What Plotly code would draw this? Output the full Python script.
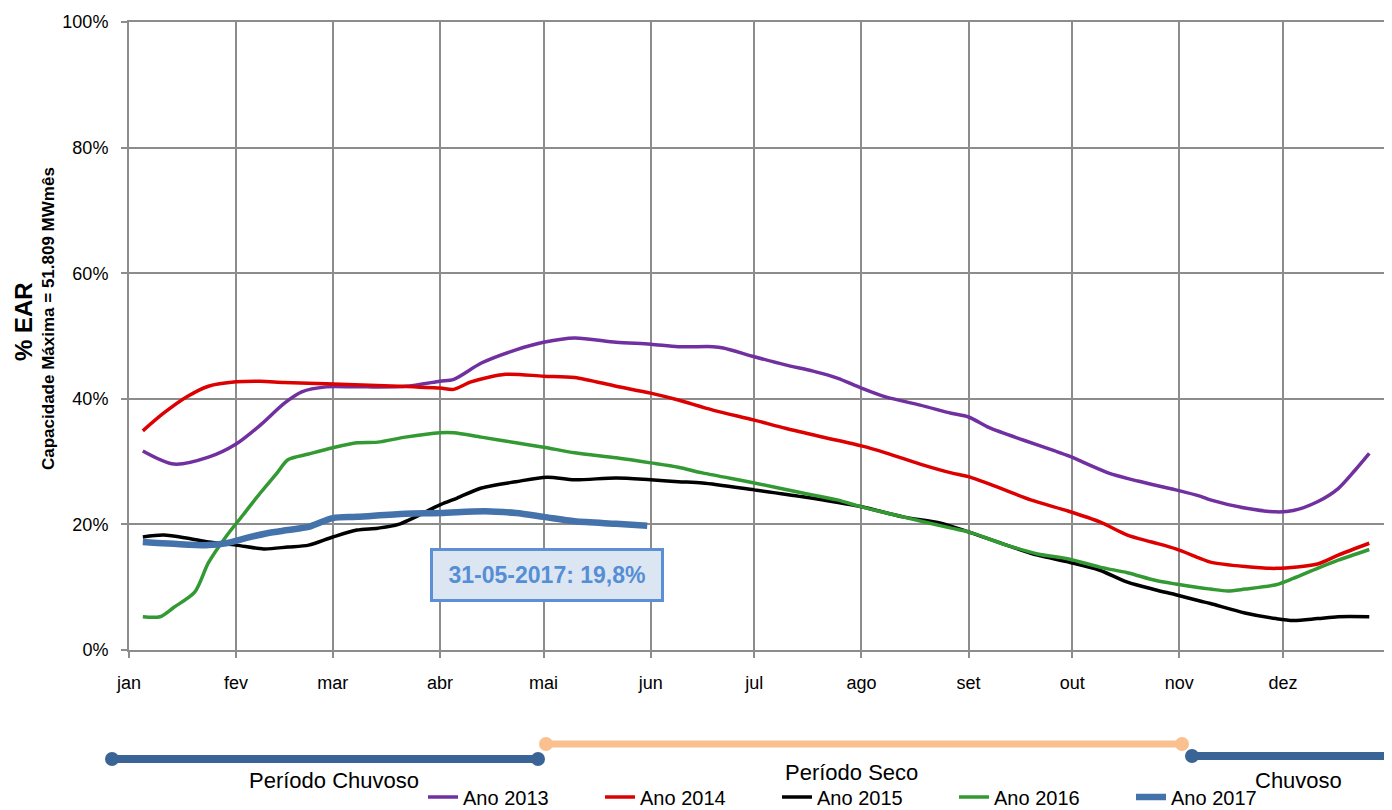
import plotly.graph_objects as go

# ---------------- data (values in % EAR) ----------------
months = ["jan", "fev", "mar", "abr", "mai", "jun", "jul", "ago", "set", "out", "nov", "dez"]
month_starts = ["2017-01-01", "2017-02-01", "2017-03-01", "2017-04-01", "2017-05-01", "2017-06-01",
                "2017-07-01", "2017-08-01", "2017-09-01", "2017-10-01", "2017-11-01", "2017-12-01",
                "2018-01-01"]

d2013 = ["01-05", "01-14", "01-24", "02-01", "02-08", "02-15", "02-20", "02-27", "03-08", "03-22",
         "04-01", "04-05", "04-13", "04-23", "05-01", "05-10", "05-22", "06-01", "06-09", "06-19",
         "06-22", "07-01", "07-10", "07-18", "07-25", "08-01", "08-08", "08-18", "08-27", "09-01",
         "09-07", "09-17", "09-26", "09-30", "10-11", "10-20", "10-31", "11-07", "11-10", "11-20",
         "11-29", "12-04", "12-11", "12-17", "12-22", "12-26"]
v2013 = [31.7, 29.6, 30.7, 32.8, 35.8, 39.3, 41.1, 41.9, 41.9, 42.0,
         42.8, 43.1, 45.7, 47.8, 49.0, 49.7, 49.0, 48.7, 48.3, 48.3,
         48.1, 46.7, 45.4, 44.4, 43.3, 41.7, 40.3, 39.0, 37.7, 37.1,
         35.4, 33.4, 31.7, 30.9, 28.3, 26.9, 25.5, 24.5, 23.9, 22.6,
         22.0, 22.2, 23.6, 25.7, 28.7, 31.3]

d2014 = ["01-05", "01-11", "01-18", "01-24", "02-01", "02-08", "02-15", "02-27", "03-20", "04-01",
         "04-05", "04-10", "04-20", "05-01", "05-10", "05-22", "06-01", "06-09", "06-19", "07-01",
         "07-10", "07-20", "08-01", "08-08", "08-18", "08-27", "09-01", "09-10", "09-19", "09-30",
         "10-09", "10-17", "10-24", "10-31", "11-07", "11-10", "11-20", "11-29", "12-11", "12-17",
         "12-26"]
v2014 = [34.9, 37.7, 40.4, 42.0, 42.7, 42.8, 42.6, 42.4, 42.0, 41.7,
         41.5, 42.7, 43.9, 43.6, 43.4, 42.0, 40.9, 39.8, 38.2, 36.6,
         35.3, 34.0, 32.5, 31.4, 29.6, 28.2, 27.6, 25.8, 23.9, 22.1,
         20.4, 18.3, 17.2, 16.1, 14.6, 14.0, 13.3, 13.0, 13.7, 15.1,
         17.0]

d2015 = ["01-05", "01-11", "01-18", "01-24", "02-01", "02-09", "02-16", "02-22", "03-01", "03-08",
         "03-14", "03-20", "04-01", "04-06", "04-13", "04-23", "05-02", "05-10", "05-22", "06-01",
         "06-09", "06-16", "07-01", "07-15", "08-01", "08-13", "08-24", "09-01", "09-12", "09-21",
         "09-30", "10-09", "10-17", "10-25", "10-31", "11-07", "11-10", "11-20", "11-29", "12-04",
         "12-11", "12-17", "12-26"]
v2015 = [18.0, 18.3, 17.8, 17.2, 16.7, 16.1, 16.4, 16.7, 18.0, 19.1,
         19.4, 20.0, 23.1, 24.2, 25.8, 26.8, 27.5, 27.1, 27.4, 27.1,
         26.8, 26.6, 25.5, 24.4, 22.8, 21.2, 20.2, 18.8, 16.7, 15.1,
         14.0, 12.7, 10.8, 9.6, 8.8, 7.8, 7.4, 5.9, 5.0, 4.7,
         5.0, 5.3, 5.3]

d2016 = ["01-05", "01-10", "01-14", "01-20", "01-24", "01-29", "02-03", "02-08", "02-13", "02-16",
         "02-22", "03-01", "03-08", "03-14", "03-22", "04-01", "04-05", "04-13", "04-23", "05-01",
         "05-10", "05-22", "06-01", "06-09", "06-16", "07-01", "07-15", "07-25", "08-01", "08-13",
         "08-27", "09-01", "09-12", "09-21", "09-30", "10-09", "10-17", "10-25", "10-31", "11-07",
         "11-10", "11-15", "11-20", "11-29", "12-04", "12-11", "12-17", "12-26"]
v2016 = [5.3, 5.3, 6.8, 9.2, 13.9, 18.0, 21.5, 25.0, 28.3, 30.3,
         31.2, 32.2, 33.0, 33.1, 33.9, 34.6, 34.6, 33.9, 33.0, 32.3,
         31.4, 30.6, 29.8, 29.1, 28.2, 26.6, 25.0, 23.9, 22.8, 21.2,
         19.4, 18.8, 16.7, 15.3, 14.5, 13.2, 12.3, 11.1, 10.5, 9.9,
         9.7, 9.4, 9.7, 10.4, 11.4, 13.0, 14.3, 16.0]

d2017 = ["01-05", "01-14", "01-24", "01-29", "02-03", "02-10", "02-16", "02-22", "03-01", "03-08",
         "03-22", "04-01", "04-14", "04-23", "05-01", "05-10", "05-22", "05-31"]
v2017 = [17.2, 16.9, 16.7, 17.0, 17.7, 18.6, 19.1, 19.6, 21.0, 21.2,
         21.7, 21.8, 22.1, 21.8, 21.2, 20.5, 20.1, 19.8]

series = [
    ("Ano 2013", d2013, v2013, "#7030A0", 3.5),
    ("Ano 2014", d2014, v2014, "#DD0000", 3.5),
    ("Ano 2015", d2015, v2015, "#000000", 3.5),
    ("Ano 2016", d2016, v2016, "#339933", 3.5),
    ("Ano 2017", d2017, v2017, "#4472AA", 6.5),
]

label_last = "31-05-2017: 19,8%"

# ---------------- figure ----------------
# the page body adds an 8px margin, so the figure is drawn 8px smaller and offset
OFF = 8
W, H = 1392 - OFF, 810 - OFF
ML, MR, MT, MB = 129 - OFF, 2, 22 - OFF, 160
PW, PH = W - ML - MR, H - MT - MB

FONT = "Liberation Sans, Arial, sans-serif"

fig = go.Figure()
for name, dates, vals, color, width in series:
    fig.add_trace(go.Scatter(
        x=["2017-" + d for d in dates], y=vals, name=name, mode="lines",
        line=dict(color=color, width=width, shape="spline", smoothing=0.8),
        hoverinfo="x+y+name",
    ))


def px(x, y):
    """page pixel -> paper coordinates"""
    return (x - OFF - ML) / PW, (H - MB - (y - OFF)) / PH


shapes = []
annotations = []


def bar(x0, x1, y, color, w):
    a = px(x0, y)
    b = px(x1, y)
    shapes.append(dict(type="line", xref="paper", yref="paper", x0=a[0], y0=a[1], x1=b[0], y1=b[1],
                       line=dict(color=color, width=w), layer="above"))


def dot(x, y, color, r=7):
    a = px(x - r, y + r)
    b = px(x + r, y - r)
    shapes.append(dict(type="circle", xref="paper", yref="paper", x0=a[0], y0=a[1], x1=b[0], y1=b[1],
                       fillcolor=color, line=dict(color=color, width=0), layer="above"))


BLUE_P = "#3B6496"
PEACH = "#FAC090"
bar(112, 538, 759, BLUE_P, 8)
dot(112, 759, BLUE_P)
dot(538, 759, BLUE_P)
bar(546, 1182, 744, PEACH, 7)
dot(546, 744, PEACH)
dot(1182, 744, PEACH)
bar(1192, 1420, 756, BLUE_P, 8)
dot(1192, 756, BLUE_P)


def text(x, y, t, size=22, **kw):
    p = px(x, y)
    annotations.append(dict(xref="paper", yref="paper", x=p[0], y=p[1], text=t, showarrow=False,
                            xanchor="center", yanchor="middle",
                            font=dict(family=FONT, size=size, color="#000000"), **kw))


text(334, 780, "Período Chuvoso")
text(851, 772, "Período Seco")
text(1298, 781, "Chuvoso")

# y-axis titles
ty = px(0, 322)[1]
annotations.append(dict(xref="paper", yref="paper", x=0, y=ty, xshift=23 - OFF - ML, text="<b>% EAR</b>",
                        textangle=-90, showarrow=False, xanchor="center", yanchor="middle",
                        font=dict(family=FONT, size=24, color="#000000")))
annotations.append(dict(xref="paper", yref="paper", x=0, y=px(0, 319)[1], xshift=49 - OFF - ML,
                        text="<b>Capacidade Máxima = 51.809 MWmês</b>",
                        textangle=-90, showarrow=False, xanchor="center", yanchor="middle",
                        font=dict(family=FONT, size=17, color="#000000")))

# last-value box
annotations.append(dict(xref="x", yref="y", x="2017-05-02", y=11.9, text="<b>" + label_last + "</b>",
                        showarrow=False, xanchor="center", yanchor="middle",
                        font=dict(family=FONT, size=23, color="#558ED5"),
                        bgcolor="#DCE6F2", bordercolor="#5B8FD6", borderwidth=3, borderpad=4,
                        width=220, height=40))

GRID = "#8C8C8C"
lx, ly = px(423, 797)
fig.update_layout(
    width=W, height=H,
    margin=dict(l=ML, r=MR, t=MT, b=MB, autoexpand=False),
    paper_bgcolor="white", plot_bgcolor="white",
    font=dict(family=FONT, size=18, color="#000000"),
    showlegend=True,
    legend=dict(orientation="h", x=lx, y=ly, xanchor="left", yanchor="middle",
                font=dict(family=FONT, size=20, color="#000000"), entrywidth=132, entrywidthmode="pixels",
                bgcolor="rgba(0,0,0,0)", tracegroupgap=0, itemwidth=30),
    xaxis=dict(type="date", range=["2017-01-01", "2018-01-01"], tickmode="array",
               tickvals=month_starts, ticktext=months + [""],
               showgrid=True, gridcolor=GRID, gridwidth=1.5,
               showline=True, linecolor=GRID, linewidth=2, mirror=True,
               ticks="outside", ticklen=6, tickcolor=GRID, tickwidth=1.5,
               tickfont=dict(family=FONT, size=18, color="#000000"), ticklabelstandoff=9,
               zeroline=False, fixedrange=True),
    yaxis=dict(range=[0, 100], tickmode="array", tickvals=[0, 20, 40, 60, 80, 100],
               ticktext=["0%", "20%", "40%", "60%", "80%", "100%"],
               showgrid=True, gridcolor=GRID, gridwidth=1.5,
               showline=True, linecolor=GRID, linewidth=2, mirror=True,
               ticks="outside", ticklen=6, tickcolor=GRID, tickwidth=1.5,
               tickfont=dict(family=FONT, size=18, color="#000000"), ticklabelstandoff=9,
               zeroline=False, fixedrange=True),
    shapes=shapes,
    annotations=annotations,
)

fig.write_html("out.html")
